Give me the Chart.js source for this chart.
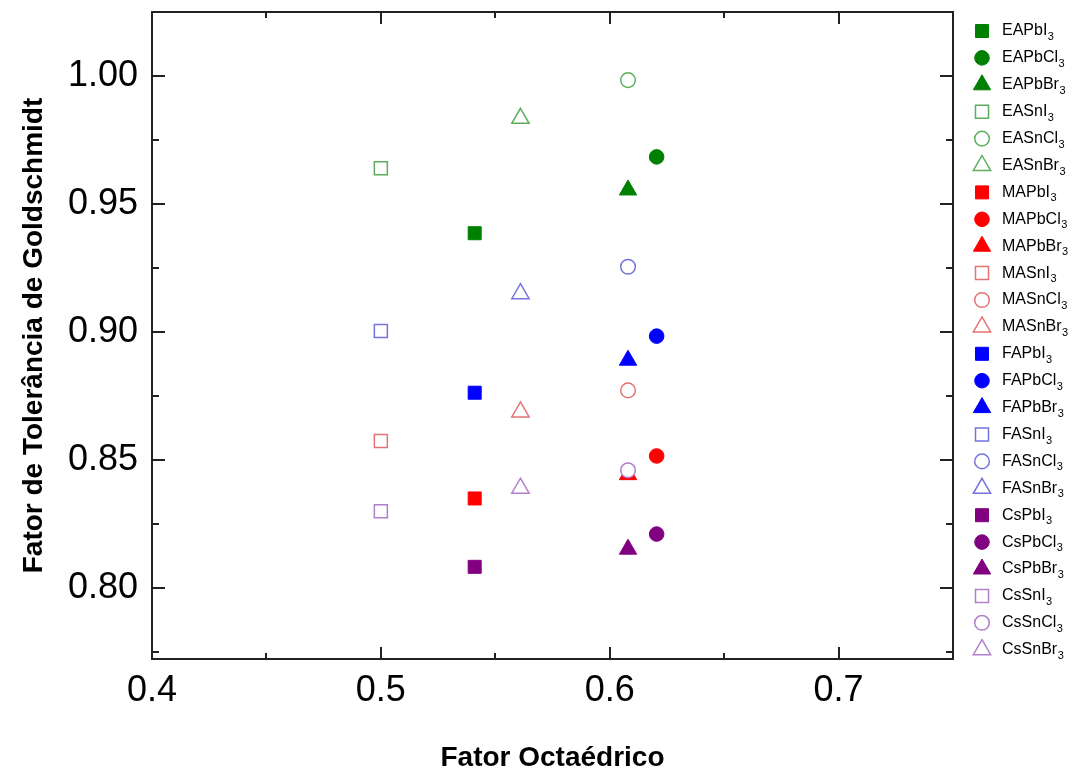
<!DOCTYPE html>
<html>
<head>
<meta charset="utf-8">
<script src="https://cdn.jsdelivr.net/npm/chart.js@4/dist/chart.umd.min.js"></script>
<style>
  body { margin: 0; background: #fff; }
  canvas { display: block; }
</style>
</head>
<body>
<canvas id="myChart" width="1078" height="777"></canvas>
<script>
// cations and halide compositions, same order as the legend
const cations = ['EA', 'MA', 'FA', 'Cs'];
const compounds = ['PbI3', 'PbCl3', 'PbBr3', 'SnI3', 'SnCl3', 'SnBr3'];

// octahedral factor (x) for each composition
const octahedral = [0.541, 0.6205, 0.608, 0.500, 0.608, 0.561];

// Goldschmidt tolerance factor (y), one array per cation
const toleranceEA = [0.9386, 0.9684, 0.9555, 0.9640, 0.9984, 0.9835];
const toleranceMA = [0.8350, 0.8516, 0.8443, 0.8574, 0.8772, 0.8688];
const toleranceFA = [0.8763, 0.8984, 0.8890, 0.9004, 0.9255, 0.9150];
const toleranceCs = [0.8083, 0.8211, 0.8152, 0.8300, 0.8460, 0.8390];

const xTicks = [0.4, 0.5, 0.6, 0.7];
const xMinor = [0.45, 0.55, 0.65];
const yTicks = [0.80, 0.85, 0.90, 0.95, 1.00];
const yMinor = [0.775, 0.825, 0.875, 0.925, 0.975];

const tolerance = [toleranceEA, toleranceMA, toleranceFA, toleranceCs];
const solidColors = ['#008000', '#ff0000', '#0000ff', '#800080'];
const openColors = ['#5cae5c', '#e57373', '#7474e0', '#b27fcc'];
const styles = ['rect', 'circle', 'triangle', 'rect', 'circle', 'triangle'];
const radii = { rect: 9.2, circle: 7.3, triangle: 10 };

Chart.defaults.font.family = '"Liberation Sans", Arial, sans-serif';
Chart.defaults.color = '#000';

let datasets = [];
cations.forEach((c, ci) => {
    compounds.forEach((comp, k) => {
        const open = k >= 3;
        const col = open ? openColors[ci] : solidColors[ci];
        datasets.push({
            label: c + comp,
            data: [{ x: octahedral[k], y: tolerance[ci][k] }],
            pointStyle: styles[k],
            pointRadius: radii[styles[k]],
            pointHoverRadius: radii[styles[k]],
            backgroundColor: open ? '#ffffff' : col,
            borderColor: col,
            borderWidth: open ? 1.5 : 1,
            order: open ? 0 : 1
        });
    });
});

function drawMarker(ctx, style, x, y, r, fill, stroke, lw) {
    ctx.beginPath();
    if (style === 'rect') {
        const s = Math.SQRT1_2 * r;
        ctx.rect(x - s, y - s, 2 * s, 2 * s);
    } else if (style === 'circle') {
        ctx.arc(x, y, r, 0, Math.PI * 2);
    } else {
        ctx.moveTo(x, y - r);
        ctx.lineTo(x + 0.866 * r, y + 0.5 * r);
        ctx.lineTo(x - 0.866 * r, y + 0.5 * r);
        ctx.closePath();
    }
    ctx.fillStyle = fill;
    ctx.fill();
    ctx.lineWidth = lw;
    ctx.strokeStyle = stroke;
    ctx.stroke();
}

// frame with inward ticks on all four sides
const framePlugin = {
    id: 'frame',
    beforeDatasetsDraw(chart) {
        const { ctx, chartArea: a, scales } = chart;
        ctx.save();
        ctx.strokeStyle = '#222';
        ctx.lineWidth = 2;
        ctx.strokeRect(a.left, a.top, a.right - a.left, a.bottom - a.top);
        const tick = (vals, len, isX) => {
            vals.forEach(v => {
                ctx.beginPath();
                if (isX) {
                    const px = Math.round(scales.x.getPixelForValue(v));
                    ctx.moveTo(px, a.bottom); ctx.lineTo(px, a.bottom - len);
                    ctx.moveTo(px, a.top); ctx.lineTo(px, a.top + len);
                } else {
                    const py = Math.round(scales.y.getPixelForValue(v));
                    ctx.moveTo(a.left, py); ctx.lineTo(a.left + len, py);
                    ctx.moveTo(a.right, py); ctx.lineTo(a.right - len, py);
                }
                ctx.stroke();
            });
        };
        tick(xTicks, 12, true);
        tick(xMinor, 6, true);
        tick(yTicks, 13, false);
        tick(yMinor, 7, false);
        ctx.restore();
    }
};

// legend on the right with subscript 3
const legendPlugin = {
    id: 'sideLegend',
    afterDraw(chart) {
        const ctx = chart.ctx;
        ctx.save();
        chart.data.datasets.forEach((ds, i) => {
            const y = 31 + i * 26.9;
            drawMarker(ctx, ds.pointStyle, 982, y, ds.pointRadius, ds.backgroundColor, ds.borderColor, ds.borderWidth);
            const base = ds.label.slice(0, -1);
            const sub = ds.label.slice(-1);
            ctx.fillStyle = '#000';
            ctx.textBaseline = 'middle';
            ctx.textAlign = 'left';
            ctx.font = '16px "Liberation Sans", Arial, sans-serif';
            ctx.fillText(base, 1002, y);
            const w = ctx.measureText(base).width;
            ctx.font = '11px "Liberation Sans", Arial, sans-serif';
            ctx.fillText(sub, 1002 + w + 0.5, y + 6);
        });
        ctx.restore();
    }
};

const ctx = document.getElementById('myChart');
let myChart = new Chart(ctx, {
    type: 'scatter',
    data: { datasets: datasets },
    options: {
        responsive: false,
        animation: false,
        layout: { padding: { top: 12, right: 125, left: 0, bottom: 0 } },
        plugins: {
            legend: { display: false },
            tooltip: { enabled: false }
        },
        scales: {
            x: {
                type: 'linear',
                min: 0.4,
                max: 0.75,
                afterBuildTicks: s => { s.ticks = xTicks.map(v => ({ value: v })); },
                afterFit: s => { s.height = 118; s.paddingLeft = 0; s.paddingRight = 0; },
                grid: { display: false, drawTicks: false },
                border: { display: false },
                ticks: {
                    font: { size: 36 },
                    color: '#000',
                    padding: 10,
                    maxRotation: 0,
                    callback: v => v.toFixed(1)
                },
                title: {
                    display: true,
                    text: 'Fator Octaédrico',
                    color: '#000',
                    font: { size: 28, weight: 'bold' },
                    padding: { top: 0, bottom: 2 }
                }
            },
            y: {
                type: 'linear',
                min: 0.7723,
                max: 1.025,
                afterBuildTicks: s => { s.ticks = yTicks.map(v => ({ value: v })); },
                afterFit: s => { s.width = 152; s.paddingTop = 0; s.paddingBottom = 0; },
                grid: { display: false, drawTicks: false },
                border: { display: false },
                ticks: {
                    font: { size: 36 },
                    color: '#000',
                    padding: 14,
                    callback: v => v.toFixed(2)
                },
                title: {
                    display: true,
                    text: 'Fator de Tolerância de Goldschmidt',
                    color: '#000',
                    font: { size: 28, weight: 'bold' },
                    padding: { top: 17, bottom: 0 }
                }
            }
        }
    },
    plugins: [framePlugin, legendPlugin]
});
</script>
</body>
</html>
